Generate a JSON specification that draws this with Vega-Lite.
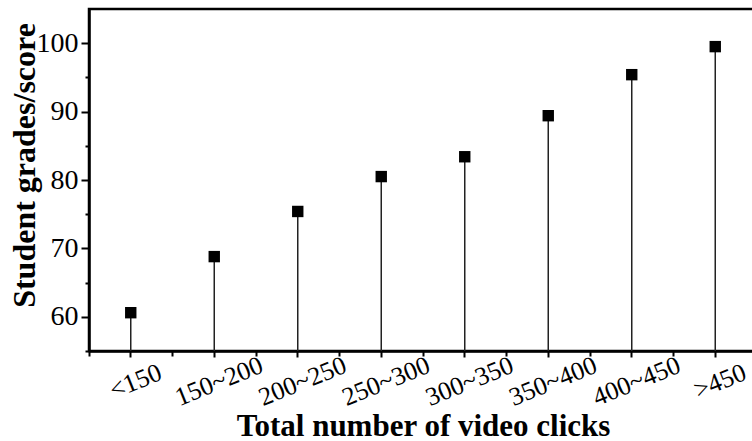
{
  "$schema": "https://vega.github.io/schema/vega-lite/v6.json",
  "width": 668,
  "height": 342,
  "autosize": {"type": "none"},
  "padding": {"left": 89, "top": 9, "right": 0, "bottom": 90},
  "background": "white",
  "config": {
    "view": {"stroke": "black", "strokeWidth": 2.5},
    "font": "Liberation Serif",
    "axis": {"labelFont": "Liberation Serif", "titleFont": "Liberation Serif"}
  },
  "data": {
    "values": [
      {"clicks": "<150", "score": 60.6},
      {"clicks": "150~200", "score": 68.8},
      {"clicks": "200~250", "score": 75.4},
      {"clicks": "250~300", "score": 80.5},
      {"clicks": "300~350", "score": 83.4},
      {"clicks": "350~400", "score": 89.4},
      {"clicks": "400~450", "score": 95.4},
      {"clicks": ">450", "score": 99.5}
    ]
  },
  "resolve": {"axis": {"x": "independent", "y": "independent"}},
  "layer": [
    {
      "mark": {"type": "rule", "color": "#222", "strokeWidth": 1.5},
      "encoding": {
        "x": {
          "field": "clicks", "type": "nominal", "sort": null,
          "scale": {"type": "band", "paddingInner": 0, "paddingOuter": 0},
          "axis": {
            "orient": "bottom",
            "title": "Total number of video clicks",
            "titleFontSize": 31, "titleFontWeight": "bold", "titleColor": "black",
            "titleBaseline": "alphabetic", "titleY": 84,
            "labelFontSize": 26, "labelColor": "black",
            "labelAngle": -22, "labelAlign": "center", "labelBaseline": "top", "labelPadding": 12,
            "domainColor": "black", "domainWidth": 2.5,
            "tickColor": "black", "tickWidth": 2, "tickSize": 6,
            "grid": false
          }
        },
        "y": {
          "field": "score", "type": "quantitative",
          "scale": {"domain": [55, 105], "nice": false, "zero": false},
          "axis": {
            "orient": "left",
            "title": "Student grades/score",
            "titleFontSize": 32, "titleFontWeight": "bold", "titleColor": "black",
            "titleBaseline": "alphabetic", "titleAlign": "center", "titleX": -55, "titleY": 156, "titleAngle": -90,
            "values": [60, 70, 80, 90, 100],
            "labelFontSize": 28, "labelColor": "black", "labelPadding": 3,
            "domainColor": "black", "domainWidth": 2.5,
            "tickColor": "black", "tickWidth": 2, "tickSize": 8,
            "grid": false
          }
        },
        "y2": {"datum": 55}
      }
    },
    {
      "mark": {"type": "point", "shape": "square", "filled": true, "color": "black", "size": 130, "opacity": 1},
      "encoding": {
        "x": {
          "field": "clicks", "type": "nominal", "sort": null,
          "axis": {
            "orient": "bottom", "title": null, "labels": false, "domain": false,
            "bandPosition": 0, "tickColor": "black", "tickWidth": 2, "tickSize": 5, "grid": false
          }
        },
        "y": {
          "field": "score", "type": "quantitative",
          "axis": {
            "orient": "left", "title": null, "labels": false, "domain": false,
            "values": [55, 65, 75, 85, 95],
            "tickColor": "black", "tickWidth": 2, "tickSize": 4, "grid": false
          }
        }
      }
    }
  ]
}
